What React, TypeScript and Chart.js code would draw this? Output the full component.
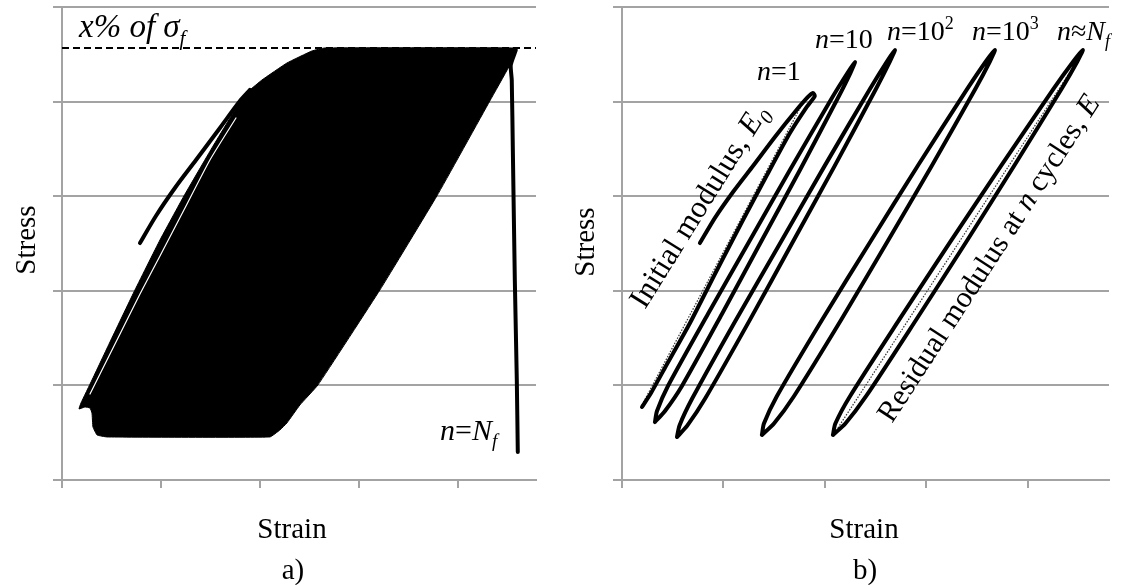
import React, { useEffect, useRef } from 'react';
import { Chart, registerables } from 'chart.js';

Chart.register(...registerables);

// ---------------- Panel a) data (strain, stress in arbitrary units) ----------------
const aFirstLoadStrain = [0.788, 0.949, 1.141, 1.354, 1.596, 1.798, 1.899];
const aFirstLoadStress = [2.505, 2.791, 3.087, 3.383, 3.721, 4.006, 4.123];

// outline of the dense band of cycles
const aCyclesStrain = [1.899, 2.020, 2.273, 2.525, 2.657, 4.566, 4.586, 4.515, 4.323, 3.788, 3.212, 2.586, 2.404, 2.273, 2.202, 2.101, 0.455, 0.354, 0.313, 0.303, 0.283, 0.232, 0.172, 0.192, 0.303, 0.485, 0.727, 0.990, 1.232, 1.515, 1.798, 1.899];
const aCyclesStress = [4.123, 4.228, 4.408, 4.535, 4.567, 4.567, 4.535, 4.366, 4.006, 3.002, 2.008, 1.004, 0.793, 0.603, 0.529, 0.455, 0.455, 0.476, 0.560, 0.708, 0.761, 0.772, 0.751, 0.814, 1.057, 1.459, 1.987, 2.537, 3.002, 3.510, 3.996, 4.123];

// thin gap between the first unloading and the band
const aGapStrain = [1.758, 1.495, 1.232, 0.990, 0.788, 0.566, 0.384, 0.283];
const aGapStress = [3.827, 3.383, 2.854, 2.368, 1.966, 1.501, 1.121, 0.909];

// failure branch
const aFailStrain = [4.586, 4.535, 4.545, 4.556, 4.576, 4.596, 4.606];
const aFailStress = [4.545, 4.387, 4.228, 3.488, 2.114, 1.057, 0.296];

// peak stress level (x% of sigma_f)
const aPeakLevel = 4.567;
const aStrainMax = 4.79;

// ---------------- Panel b) data ----------------
const bCycle1Strain = [0.768, 0.916, 1.094, 1.291, 1.507, 1.704, 1.833, 1.882, 1.901, 1.813, 1.655, 1.429, 1.182, 0.926, 0.670, 0.433, 0.286, 0.197];
const bCycle1Stress = [2.505, 2.770, 3.044, 3.319, 3.626, 3.890, 4.049, 4.091, 4.059, 3.932, 3.668, 3.224, 2.727, 2.199, 1.660, 1.205, 0.920, 0.772];

const bCycle10Strain = [0.325, 0.424, 0.591, 0.985, 1.369, 1.754, 2.128, 2.251, 2.296, 2.222, 2.069, 1.655, 1.251, 0.847, 0.453, 0.345, 0.325];
const bCycle10Stress = [0.613, 0.729, 0.994, 1.755, 2.516, 3.277, 4.038, 4.302, 4.419, 4.302, 4.038, 3.277, 2.516, 1.755, 0.994, 0.729, 0.613];

const bCycle100Strain = [0.542, 0.645, 0.821, 1.255, 1.675, 2.095, 2.504, 2.640, 2.690, 2.611, 2.445, 1.996, 1.557, 1.117, 0.693, 0.567, 0.542];
const bCycle100Stress = [0.455, 0.577, 0.864, 1.682, 2.500, 3.318, 4.136, 4.423, 4.545, 4.423, 4.136, 3.318, 2.500, 1.682, 0.864, 0.577, 0.455];

const bCycle1000Strain = [1.379, 1.498, 1.693, 2.162, 2.611, 3.055, 3.485, 3.626, 3.675, 3.586, 3.406, 2.917, 2.443, 1.974, 1.525, 1.399, 1.379];
const bCycle1000Stress = [0.476, 0.597, 0.883, 1.697, 2.511, 3.325, 4.139, 4.424, 4.545, 4.424, 4.139, 3.325, 2.511, 1.697, 0.883, 0.597, 0.476];

const bCycleNfStrain = [2.079, 2.202, 2.404, 2.901, 3.389, 3.867, 4.335, 4.488, 4.542, 4.448, 4.256, 3.739, 3.232, 2.734, 2.246, 2.103, 2.079];
const bCycleNfStress = [0.476, 0.597, 0.883, 1.697, 2.511, 3.325, 4.139, 4.424, 4.545, 4.424, 4.139, 3.325, 2.511, 1.697, 0.883, 0.597, 0.476];

const bInitialModStrain = [0.197, 1.813];
const bInitialModStress = [0.793, 4.049];
const bResidualModStrain = [2.128, 4.493];
const bResidualModStress = [0.550, 4.440];
const bStrainMax = 4.8;

const stressMax = 5;

// ---------------- helpers ----------------
const pts = (xs: number[], ys: number[]) => xs.map((x, i) => ({ x, y: ys[i] }));

const GRID = '#a3a3a3';
const FAMILY = '"Liberation Serif", "Times New Roman", serif';

type Run = { t: string; it?: boolean; sub?: boolean; sup?: boolean };
type TextItem = { runs: Run[]; x: number; y: number; size: number; align?: 'left' | 'center'; angle?: number };

function drawRich(ctx: CanvasRenderingContext2D, item: TextItem) {
  const small = Math.round(item.size * 0.64);
  const fontFor = (r: Run) => `${r.it ? 'italic ' : ''}${r.sub || r.sup ? small : item.size}px ${FAMILY}`;
  const widths = item.runs.map((r) => {
    ctx.font = fontFor(r);
    return ctx.measureText(r.t).width;
  });
  const total = widths.reduce((a, b) => a + b, 0);
  ctx.save();
  ctx.translate(item.x, item.y);
  if (item.angle) ctx.rotate((-item.angle * Math.PI) / 180);
  ctx.fillStyle = '#000';
  ctx.textBaseline = 'alphabetic';
  ctx.textAlign = 'left';
  let cx = item.align === 'center' ? -total / 2 : 0;
  item.runs.forEach((r, i) => {
    ctx.font = fontFor(r);
    const dy = r.sub ? item.size * 0.24 : r.sup ? -item.size * 0.4 : 0;
    ctx.fillText(r.t, cx, dy);
    cx += widths[i];
  });
  ctx.restore();
}

function makeTextPlugin(items: TextItem[]) {
  return {
    id: 'richText',
    afterDraw(chart: any) {
      const ctx = chart.ctx as CanvasRenderingContext2D;
      items.forEach((it) => drawRich(ctx, it));
    },
  };
}

function makeOptions(xMax: number, padLeft: number, padRight: number) {
  return {
    animation: false as const,
    responsive: false,
    events: [] as any[],
    layout: { padding: { left: padLeft, right: padRight, top: 7, bottom: 97 } },
    plugins: { legend: { display: false }, tooltip: { enabled: false }, title: { display: false } },
    elements: { point: { radius: 0 } },
    scales: {
      x: {
        type: 'linear' as const,
        position: 'bottom' as const,
        min: 0,
        max: xMax,
        ticks: { display: false, stepSize: 1 },
        grid: { drawOnChartArea: false, drawTicks: true, tickLength: 8, color: GRID, lineWidth: 2 },
        border: { display: true, color: GRID, width: 2 },
        afterBuildTicks: (s: any) => {
          s.ticks = s.ticks.filter((t: any) => Number.isInteger(t.value));
        },
        afterFit: (s: any) => {
          s.height = 8;
        },
      },
      y: {
        type: 'linear' as const,
        min: 0,
        max: stressMax,
        ticks: { display: false, stepSize: 1 },
        grid: { color: GRID, lineWidth: 2, drawTicks: true, tickLength: 9 },
        border: { display: true, color: GRID, width: 2 },
        afterFit: (s: any) => {
          s.width = 9;
        },
      },
    },
  };
}

const lineDs = (label: string, data: any[], extra: any = {}) => ({
  label,
  data,
  showLine: true,
  borderColor: '#000',
  borderWidth: 4,
  pointRadius: 0,
  tension: 0.25,
  fill: false,
  borderJoinStyle: 'round',
  borderCapStyle: 'round',
  ...extra,
});

function PanelA() {
  const ref = useRef<HTMLCanvasElement>(null);
  useEffect(() => {
    const texts: TextItem[] = [
      { runs: [{ t: 'Stress' }], x: 35, y: 240, size: 29, align: 'center', angle: 90 },
      { runs: [{ t: 'Strain' }], x: 292, y: 538, size: 29, align: 'center' },
      { runs: [{ t: 'a)' }], x: 293, y: 579, size: 29, align: 'center' },
      { runs: [{ t: 'x% of σ', it: true }, { t: 'f', it: true, sub: true }], x: 79, y: 37, size: 33 },
      { runs: [{ t: 'n', it: true }, { t: '=' }, { t: 'N', it: true }, { t: 'f', it: true, sub: true }], x: 440, y: 440, size: 30 },
    ];
    const chart = new Chart(ref.current as HTMLCanvasElement, {
      type: 'scatter',
      data: {
        datasets: [
          lineDs('gap', pts(aGapStrain, aGapStress), { borderColor: '#ffffff', borderWidth: 1.2, tension: 0.2 }),
          lineDs('first loading', pts(aFirstLoadStrain, aFirstLoadStress), { tension: 0.3 }),
          lineDs('failure', pts(aFailStrain, aFailStress), { tension: 0.2 }),
          lineDs('x% of sigma_f', pts([0, aStrainMax], [aPeakLevel, aPeakLevel]), { borderWidth: 2, borderDash: [7, 4], tension: 0, borderCapStyle: 'butt' }),
          lineDs('cycles', pts(aCyclesStrain, aCyclesStress), { borderWidth: 1, tension: 0.1, fill: 'shape', backgroundColor: '#000' }),
        ] as any,
      },
      options: makeOptions(aStrainMax, 53, 26) as any,
      plugins: [makeTextPlugin(texts)],
    });
    return () => chart.destroy();
  }, []);
  return <canvas ref={ref} width={562} height={585} style={{ position: 'absolute', left: 0, top: 0, width: 562, height: 585 }} />;
}

function PanelB() {
  const ref = useRef<HTMLCanvasElement>(null);
  useEffect(() => {
    const texts: TextItem[] = [
      { runs: [{ t: 'Stress' }], x: 32, y: 242, size: 29, align: 'center', angle: 90 },
      { runs: [{ t: 'Strain' }], x: 302, y: 538, size: 29, align: 'center' },
      { runs: [{ t: 'b)' }], x: 303, y: 579, size: 29, align: 'center' },
      { runs: [{ t: 'n', it: true }, { t: '=1' }], x: 195, y: 80, size: 28 },
      { runs: [{ t: 'n', it: true }, { t: '=10' }], x: 253, y: 48, size: 28 },
      { runs: [{ t: 'n', it: true }, { t: '=10' }, { t: '2', sup: true }], x: 325, y: 40, size: 28 },
      { runs: [{ t: 'n', it: true }, { t: '=10' }, { t: '3', sup: true }], x: 410, y: 40, size: 28 },
      { runs: [{ t: 'n', it: true }, { t: '≈' }, { t: 'N', it: true }, { t: 'f', it: true, sub: true }], x: 495, y: 40, size: 28 },
      { runs: [{ t: 'Initial modulus, ' }, { t: 'E', it: true }, { t: '0', it: true, sub: true }], x: 83, y: 310, size: 31, angle: 58 },
      { runs: [{ t: 'Residual modulus at ' }, { t: 'n', it: true }, { t: ' cycles, ' }, { t: 'E', it: true }], x: 330, y: 424, size: 30, angle: 57 },
    ];
    const dotted = { borderWidth: 1.2, borderColor: '#333', borderDash: [1.5, 1.5], tension: 0, borderCapStyle: 'butt' };
    const chart = new Chart(ref.current as HTMLCanvasElement, {
      type: 'scatter',
      data: {
        datasets: [
          lineDs('n=1', pts(bCycle1Strain, bCycle1Stress), { tension: 0.2 }),
          lineDs('n=10', pts(bCycle10Strain, bCycle10Stress)),
          lineDs('n=10^2', pts(bCycle100Strain, bCycle100Stress)),
          lineDs('n=10^3', pts(bCycle1000Strain, bCycle1000Stress)),
          lineDs('n≈Nf', pts(bCycleNfStrain, bCycleNfStress)),
          lineDs('E0', pts(bInitialModStrain, bInitialModStress), dotted),
          lineDs('E', pts(bResidualModStrain, bResidualModStress), dotted),
        ] as any,
      },
      options: makeOptions(bStrainMax, 51, 15) as any,
      plugins: [makeTextPlugin(texts)],
    });
    return () => chart.destroy();
  }, []);
  return <canvas ref={ref} width={562} height={585} style={{ position: 'absolute', left: 562, top: 0, width: 562, height: 585 }} />;
}

export default function App() {
  return (
    <div style={{ position: 'fixed', left: 0, top: 0, width: 1124, height: 585, background: '#fff', overflow: 'hidden' }}>
      <PanelA />
      <PanelB />
    </div>
  );
}
